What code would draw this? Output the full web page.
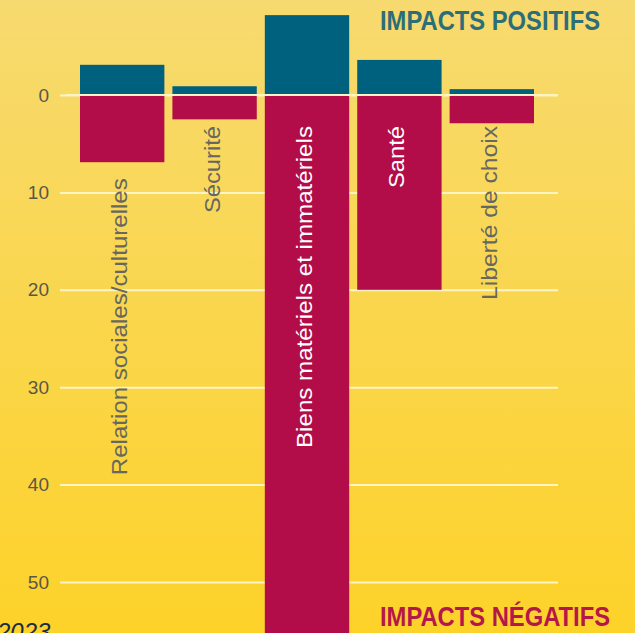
<!DOCTYPE html>
<html>
<head>
<meta charset="utf-8">
<script src="https://cdn.jsdelivr.net/npm/d3@7"></script>
<style>
  body { margin: 0; }
  svg { display: block; }
</style>
</head>
<body>
<script>
// impacts per domain
const categories = [
  "Relation sociales/culturelles",
  "Sécurité",
  "Biens matériels et immatériels",
  "Santé",
  "Liberté de choix"
];
const positive = [3.1, 0.9, 8.2, 3.6, 0.6];
const negative = [6.9, 2.5, 57, 20, 2.9];
const yTicks = [0, 10, 20, 30, 40, 50];

const width = 635,
  height = 633;
const blue = "#00617f",
  red = "#b20d48";
// pixel length of each rotated label
const labelLen = [297, 87, 322, 62, 174];

const svg = d3
  .select("body")
  .append("svg")
  .attr("width", width)
  .attr("height", height);

const grad = svg
  .append("defs")
  .append("linearGradient")
  .attr("id", "bg")
  .attr("x1", 0)
  .attr("y1", 0)
  .attr("x2", 0)
  .attr("y2", 1);
grad.append("stop").attr("offset", "0%").attr("stop-color", "#f7da70");
grad.append("stop").attr("offset", "100%").attr("stop-color", "#fdd229");

svg
  .append("rect")
  .attr("width", width)
  .attr("height", height)
  .attr("fill", "url(#bg)");

let x = d3
  .scaleBand()
  .domain(categories)
  .range([80, 534])
  .paddingInner(0.087)
  .paddingOuter(0);

let y = d3
  .scaleLinear()
  .domain([0, 50])
  .range([95, 582]);

const gridLeft = 60,
  gridRight = 558;

// gridlines + tick labels
const axis = svg
  .append("g")
  .attr("transform", "translate(" + gridRight + ",0)")
  .call(
    d3
      .axisLeft(y)
      .tickValues(yTicks)
      .tickSize(gridRight - gridLeft)
      .tickPadding(11)
  );
axis.select(".domain").remove();
axis
  .selectAll("line")
  .attr("stroke", "#fff4c4")
  .attr("stroke-width", 2);
axis
  .selectAll("text")
  .attr("fill", "#5b5748")
  .style("font-family", "'Liberation Sans', Arial, sans-serif")
  .style("font-size", "19px");

const bars = svg
  .selectAll(".bar")
  .data(categories)
  .enter()
  .append("g")
  .attr("class", "bar");

bars
  .append("rect")
  .attr("x", d => x(d))
  .attr("width", x.bandwidth())
  .attr("y", (d, i) => y(-positive[i]))
  .attr("height", (d, i) => y(0) - y(-positive[i]))
  .attr("fill", blue);

bars
  .append("rect")
  .attr("x", d => x(d))
  .attr("width", x.bandwidth())
  .attr("y", y(0))
  .attr("height", (d, i) => Math.min(y(negative[i]), height + 5) - y(0))
  .attr("fill", red);

// zero line sits over the bars
svg
  .append("line")
  .attr("x1", gridLeft + 6)
  .attr("x2", gridRight)
  .attr("y1", y(0))
  .attr("y2", y(0))
  .attr("stroke", "#fff4c4")
  .attr("stroke-width", 2);

bars
  .append("text")
  .attr("transform", function(d, i) {
    const inside = negative[i] >= 20;
    let top = inside || negative[i] < 5 ? y(0) + 31 : y(negative[i]) + 16;
    const cx = x(d) + x.bandwidth() / 2 + 5;
    return "translate(" + cx + "," + top + ") rotate(-90)";
  })
  .attr("text-anchor", "end")
  .attr("textLength", (d, i) => labelLen[i])
  .attr("lengthAdjust", "spacingAndGlyphs")
  .attr("fill", (d, i) => (negative[i] >= 20 ? "#ffffff" : "#676760"))
  .style("font-family", "'Liberation Sans Narrow', 'Liberation Sans', Arial, sans-serif")
  .style("font-size", "22px")
  .text(d => d);

svg
  .append("text")
  .attr("x", 380)
  .attr("y", 30)
  .attr("textLength", 220)
  .attr("lengthAdjust", "spacingAndGlyphs")
  .attr("fill", "#2c6e78")
  .style("font-family", "'Liberation Sans Narrow', 'Liberation Sans', Arial, sans-serif")
  .style("font-size", "27px")
  .style("font-weight", "bold")
  .text("IMPACTS POSITIFS");

svg
  .append("text")
  .attr("x", 380)
  .attr("y", 626)
  .attr("textLength", 230)
  .attr("lengthAdjust", "spacingAndGlyphs")
  .attr("fill", "#b5174a")
  .style("font-family", "'Liberation Sans Narrow', 'Liberation Sans', Arial, sans-serif")
  .style("font-size", "27px")
  .style("font-weight", "bold")
  .text("IMPACTS NÉGATIFS");

svg
  .append("text")
  .attr("x", -3)
  .attr("y", 640)
  .attr("fill", "#1c2b44")
  .style("font-family", "'Liberation Sans', Arial, sans-serif")
  .style("font-size", "24px")
  .style("font-style", "italic")
  .text("2023");
</script>
</body>
</html>
